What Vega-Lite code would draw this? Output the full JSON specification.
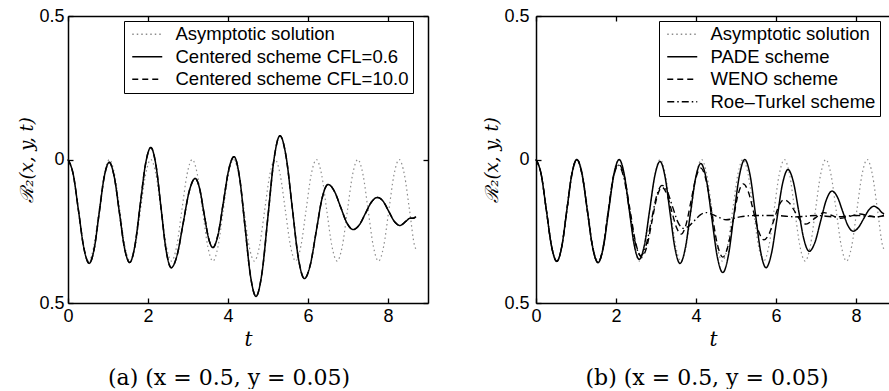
{
  "$schema": "https://vega.github.io/schema/vega-lite/v6.json",
  "padding": {"left": 18, "top": 7, "right": 0, "bottom": 0},
  "bounds": "flush",
  "spacing": 108,
  "background": "white",
  "resolve": {"scale": {"color": "independent", "strokeDash": "independent"}, "legend": {"color": "independent", "strokeDash": "independent"}},
  "config": {
    "view": {"stroke": null},
    "axis": {"grid": false, "domainColor": "black", "tickColor": "black", "labelColor": "black", "titleColor": "black", "labelFont": "Liberation Sans", "labelFontSize": 18, "domainWidth": 1.5, "tickWidth": 1.3, "labelFlush": false, "labelOverlap": false},
    "legend": {"labelFont": "Liberation Sans", "labelFontSize": 18.5, "labelColor": "black", "labelLimit": 400, "strokeColor": "black", "fillColor": "white", "padding": 4, "rowPadding": 3.5, "symbolStrokeWidth": 1.5, "symbolSize": 100}
  },
  "datasets": {
    "asym": [
      {"t":0,"r":0},{"t":0.129,"r":-0.052},{"t":0.259,"r":-0.177},{"t":0.388,"r":-0.302},{"t":0.518,"r":-0.354},{"t":0.647,"r":-0.302},{"t":0.776,"r":-0.177},{"t":0.906,"r":-0.052},
      {"t":1.035,"r":0},{"t":1.164,"r":-0.052},{"t":1.294,"r":-0.177},{"t":1.423,"r":-0.302},{"t":1.553,"r":-0.354},{"t":1.682,"r":-0.302},{"t":1.811,"r":-0.177},{"t":1.941,"r":-0.052},
      {"t":2.070,"r":0},{"t":2.199,"r":-0.052},{"t":2.329,"r":-0.177},{"t":2.458,"r":-0.302},{"t":2.588,"r":-0.354},{"t":2.717,"r":-0.302},{"t":2.846,"r":-0.177},{"t":2.976,"r":-0.052},
      {"t":3.105,"r":0},{"t":3.234,"r":-0.052},{"t":3.364,"r":-0.177},{"t":3.493,"r":-0.302},{"t":3.623,"r":-0.354},{"t":3.752,"r":-0.302},{"t":3.881,"r":-0.177},{"t":4.011,"r":-0.052},
      {"t":4.140,"r":0},{"t":4.269,"r":-0.052},{"t":4.399,"r":-0.177},{"t":4.528,"r":-0.302},{"t":4.658,"r":-0.354},{"t":4.787,"r":-0.302},{"t":4.916,"r":-0.177},{"t":5.046,"r":-0.052},
      {"t":5.175,"r":0},{"t":5.304,"r":-0.052},{"t":5.434,"r":-0.177},{"t":5.563,"r":-0.302},{"t":5.693,"r":-0.354},{"t":5.822,"r":-0.302},{"t":5.951,"r":-0.177},{"t":6.081,"r":-0.052},
      {"t":6.210,"r":0},{"t":6.339,"r":-0.052},{"t":6.469,"r":-0.177},{"t":6.598,"r":-0.302},{"t":6.728,"r":-0.354},{"t":6.857,"r":-0.302},{"t":6.986,"r":-0.177},{"t":7.116,"r":-0.052},
      {"t":7.245,"r":0},{"t":7.374,"r":-0.052},{"t":7.504,"r":-0.177},{"t":7.633,"r":-0.302},{"t":7.763,"r":-0.354},{"t":7.892,"r":-0.302},{"t":8.021,"r":-0.177},{"t":8.151,"r":-0.052},
      {"t":8.280,"r":0},{"t":8.409,"r":-0.052},{"t":8.539,"r":-0.177},{"t":8.668,"r":-0.302},{"t":8.7,"r":-0.313}
    ],
    "cen": [
      {"t":0,"r":0},{"t":0.1325,"r":-0.053},{"t":0.265,"r":-0.181},{"t":0.3975,"r":-0.309},{"t":0.53,"r":-0.362},{"t":0.655,"r":-0.311},{"t":0.78,"r":-0.186},{"t":0.905,"r":-0.061},
      {"t":1.03,"r":-0.01},{"t":1.1575,"r":-0.061},{"t":1.285,"r":-0.1845},{"t":1.4125,"r":-0.308},{"t":1.54,"r":-0.359},{"t":1.6725,"r":-0.3005},{"t":1.805,"r":-0.1585},{"t":1.9375,"r":-0.0165},
      {"t":2.07,"r":0.042},{"t":2.1975,"r":-0.019},{"t":2.325,"r":-0.1675},{"t":2.4525,"r":-0.316},{"t":2.58,"r":-0.377},{"t":2.73,"r":-0.332},{"t":2.88,"r":-0.2215},{"t":3.03,"r":-0.111},
      {"t":3.18,"r":-0.066},{"t":3.29,"r":-0.101},{"t":3.40,"r":-0.1865},{"t":3.51,"r":-0.272},{"t":3.62,"r":-0.307},{"t":3.7525,"r":-0.261},{"t":3.885,"r":-0.1485},{"t":4.0175,"r":-0.036},
      {"t":4.15,"r":0.01},{"t":4.2875,"r":-0.061},{"t":4.425,"r":-0.2335},{"t":4.5625,"r":-0.406},{"t":4.7,"r":-0.477},{"t":4.85,"r":-0.395},{"t":5.0,"r":-0.197},{"t":5.15,"r":0.001},
      {"t":5.3,"r":0.083},{"t":5.4525,"r":0.010},{"t":5.605,"r":-0.166},{"t":5.7575,"r":-0.342},{"t":5.91,"r":-0.415},{"t":6.0575,"r":-0.367},{"t":6.205,"r":-0.251},{"t":6.3525,"r":-0.135},
      {"t":6.5,"r":-0.087},{"t":6.6575,"r":-0.110},{"t":6.815,"r":-0.1655},{"t":6.9725,"r":-0.221},{"t":7.13,"r":-0.244},{"t":7.2825,"r":-0.228},{"t":7.435,"r":-0.188},{"t":7.5875,"r":-0.148},
      {"t":7.74,"r":-0.132},{"t":7.88,"r":-0.146},{"t":8.02,"r":-0.181},{"t":8.16,"r":-0.216},{"t":8.3,"r":-0.23},{"t":8.45,"r":-0.215},{"t":8.55,"r":-0.205},{"t":8.62,"r":-0.205},{"t":8.7,"r":-0.199}
    ],
    "pade": [
      {"t":0,"r":0},{"t":0.13,"r":-0.052},{"t":0.26,"r":-0.1775},{"t":0.39,"r":-0.303},{"t":0.52,"r":-0.355},{"t":0.645,"r":-0.303},{"t":0.77,"r":-0.1775},{"t":0.895,"r":-0.052},
      {"t":1.02,"r":0},{"t":1.1525,"r":-0.052},{"t":1.285,"r":-0.1795},{"t":1.4175,"r":-0.307},{"t":1.55,"r":-0.359},{"t":1.6825,"r":-0.307},{"t":1.815,"r":-0.1795},{"t":1.9475,"r":-0.052},
      {"t":2.08,"r":0},{"t":2.205,"r":-0.051},{"t":2.33,"r":-0.174},{"t":2.455,"r":-0.297},{"t":2.58,"r":-0.348},{"t":2.71,"r":-0.298},{"t":2.84,"r":-0.1775},{"t":2.97,"r":-0.057},
      {"t":3.1,"r":-0.007},{"t":3.225,"r":-0.059},{"t":3.35,"r":-0.1845},{"t":3.475,"r":-0.310},{"t":3.6,"r":-0.362},{"t":3.73,"r":-0.311},{"t":3.86,"r":-0.188},{"t":3.99,"r":-0.065},
      {"t":4.12,"r":-0.014},{"t":4.2575,"r":-0.069},{"t":4.395,"r":-0.204},{"t":4.5325,"r":-0.339},{"t":4.67,"r":-0.394},{"t":4.8075,"r":-0.336},{"t":4.945,"r":-0.197},{"t":5.0825,"r":-0.058},
      {"t":5.22,"r":0},{"t":5.3525,"r":-0.055},{"t":5.485,"r":-0.1885},{"t":5.6175,"r":-0.322},{"t":5.75,"r":-0.377},{"t":5.8875,"r":-0.327},{"t":6.025,"r":-0.206},{"t":6.1625,"r":-0.085},
      {"t":6.3,"r":-0.035},{"t":6.4325,"r":-0.077},{"t":6.565,"r":-0.1775},{"t":6.6975,"r":-0.278},{"t":6.83,"r":-0.32},{"t":6.9725,"r":-0.289},{"t":7.115,"r":-0.215},{"t":7.2575,"r":-0.141},
      {"t":7.4,"r":-0.11},{"t":7.5325,"r":-0.130},{"t":7.665,"r":-0.18},{"t":7.7975,"r":-0.230},{"t":7.93,"r":-0.25},{"t":8.06,"r":-0.237},{"t":8.19,"r":-0.2065},{"t":8.32,"r":-0.176},
      {"t":8.45,"r":-0.163},{"t":8.55,"r":-0.17},{"t":8.65,"r":-0.185},{"t":8.7,"r":-0.19}
    ],
    "weno": [
      {"t":0,"r":0},{"t":0.13,"r":-0.052},{"t":0.26,"r":-0.1775},{"t":0.39,"r":-0.303},{"t":0.52,"r":-0.355},{"t":0.645,"r":-0.303},{"t":0.77,"r":-0.1775},{"t":0.895,"r":-0.052},
      {"t":1.02,"r":0},{"t":1.1525,"r":-0.052},{"t":1.285,"r":-0.1795},{"t":1.4175,"r":-0.307},{"t":1.55,"r":-0.359},{"t":1.6775,"r":-0.307},{"t":1.805,"r":-0.18},{"t":1.9325,"r":-0.06},
      {"t":2.06,"r":-0.015},{"t":2.205,"r":-0.058},{"t":2.35,"r":-0.175},{"t":2.495,"r":-0.292},{"t":2.64,"r":-0.34},{"t":2.7675,"r":-0.305},{"t":2.895,"r":-0.2185},{"t":3.0225,"r":-0.132},
      {"t":3.15,"r":-0.097},{"t":3.27,"r":-0.121},{"t":3.39,"r":-0.1785},{"t":3.51,"r":-0.236},{"t":3.63,"r":-0.26},{"t":3.7525,"r":-0.226},{"t":3.875,"r":-0.145},{"t":3.9975,"r":-0.064},
      {"t":4.12,"r":-0.03},{"t":4.2575,"r":-0.075},{"t":4.395,"r":-0.185},{"t":4.5325,"r":-0.295},{"t":4.67,"r":-0.34},{"t":4.7975,"r":-0.303},{"t":4.925,"r":-0.2125},{"t":5.0525,"r":-0.122},
      {"t":5.18,"r":-0.085},{"t":5.31,"r":-0.113},{"t":5.44,"r":-0.1825},{"t":5.57,"r":-0.252},{"t":5.7,"r":-0.28},{"t":5.825,"r":-0.26},{"t":5.95,"r":-0.21},{"t":6.075,"r":-0.16},
      {"t":6.2,"r":-0.14},{"t":6.3375,"r":-0.152},{"t":6.475,"r":-0.1825},{"t":6.6125,"r":-0.213},{"t":6.75,"r":-0.225},{"t":6.97,"r":-0.205},{"t":7.2,"r":-0.185},{"t":7.4,"r":-0.195},
      {"t":7.6,"r":-0.205},{"t":7.85,"r":-0.198},{"t":8.1,"r":-0.19},{"t":8.3,"r":-0.195},{"t":8.5,"r":-0.2},{"t":8.7,"r":-0.195}
    ],
    "roe": [
      {"t":0,"r":0},{"t":0.13,"r":-0.052},{"t":0.26,"r":-0.1775},{"t":0.39,"r":-0.303},{"t":0.52,"r":-0.355},{"t":0.645,"r":-0.303},{"t":0.77,"r":-0.1775},{"t":0.895,"r":-0.052},
      {"t":1.02,"r":0},{"t":1.1525,"r":-0.052},{"t":1.285,"r":-0.1795},{"t":1.4175,"r":-0.307},{"t":1.55,"r":-0.359},{"t":1.6775,"r":-0.307},{"t":1.805,"r":-0.183},{"t":1.9325,"r":-0.065},
      {"t":2.06,"r":-0.02},{"t":2.2,"r":-0.066},{"t":2.34,"r":-0.1775},{"t":2.48,"r":-0.289},{"t":2.62,"r":-0.335},{"t":2.7525,"r":-0.299},{"t":2.885,"r":-0.2125},{"t":3.0175,"r":-0.126},
      {"t":3.15,"r":-0.09},{"t":3.2825,"r":-0.112},{"t":3.415,"r":-0.165},{"t":3.5475,"r":-0.218},{"t":3.68,"r":-0.24},{"t":3.8225,"r":-0.232},{"t":3.965,"r":-0.2125},{"t":4.1075,"r":-0.193},
      {"t":4.25,"r":-0.185},{"t":4.5,"r":-0.197},{"t":4.75,"r":-0.21},{"t":5.1,"r":-0.2},{"t":5.5,"r":-0.195},{"t":6.0,"r":-0.195},{"t":6.5,"r":-0.2},{"t":7.0,"r":-0.195},
      {"t":7.5,"r":-0.2},{"t":8.0,"r":-0.195},{"t":8.5,"r":-0.2},{"t":8.7,"r":-0.195}
    ]
  },
  "hconcat": [
    {
      "width": 360,
      "height": 287,
      "title": {"text": "(a)  (x = 0.5, y = 0.05)", "orient": "bottom", "font": "DejaVu Serif", "fontSize": 22, "fontWeight": "normal", "color": "black", "offset": 19, "dx": -19},
      "resolve": {"axis": {"x": "independent", "y": "independent"}},
      "layer": [
        {
          "data": {"name": "asym"},
          "mark": {"type": "line", "interpolate": "monotone", "strokeWidth": 1.2},
          "encoding": {
            "x": {"field": "t", "type": "quantitative", "scale": {"domain": [0, 9], "nice": false, "zero": false},
              "axis": {"values": [0, 2, 4, 6, 8], "tickSize": -5, "labelPadding": 9, "title": "t", "titleFont": "DejaVu Serif", "titleFontStyle": "italic", "titleFontWeight": "normal", "titleFontSize": 20, "titlePadding": 4}},
            "y": {"field": "r", "type": "quantitative", "scale": {"domain": [-0.5, 0.5], "nice": false},
              "axis": {"values": [-0.5, 0, 0.5], "tickSize": -5, "labelPadding": 9, "labelExpr": "datum.value == 0 ? '0' : format(abs(datum.value), '.1f')", "title": "ℛ₂(x, y, t)", "titleFont": "DejaVu Serif", "titleFontStyle": "italic", "titleFontWeight": "normal", "titleFontSize": 18, "titlePadding": 2}},
            "color": {"datum": "Asymptotic solution", "scale": {"domain": ["Asymptotic solution", "Centered scheme CFL=0.6", "Centered scheme CFL=10.0"], "range": ["#8c8c8c", "black", "black"]},
              "legend": {"orient": "none", "legendX": 56, "legendY": 5, "title": null, "symbolType": "M-3,0H3", "symbolOffset": 10, "labelOffset": 19}},
            "strokeDash": {"datum": "Asymptotic solution", "scale": {"domain": ["Asymptotic solution", "Centered scheme CFL=0.6", "Centered scheme CFL=10.0"], "range": [[1.5, 3], [1, 0], [6, 4]]},
              "legend": {"orient": "none", "legendX": 56, "legendY": 5, "title": null, "symbolType": "M-3,0H3", "symbolOffset": 10, "labelOffset": 19}}
          }
        },
        {
          "data": {"name": "cen"},
          "mark": {"type": "line", "interpolate": "monotone", "strokeWidth": 1.5},
          "encoding": {
            "x": {"field": "t", "type": "quantitative", "axis": null},
            "y": {"field": "r", "type": "quantitative", "axis": null},
            "color": {"datum": "Centered scheme CFL=10.0", "scale": {"domain": ["Asymptotic solution", "Centered scheme CFL=0.6", "Centered scheme CFL=10.0"], "range": ["#8c8c8c", "black", "black"]}},
            "strokeDash": {"datum": "Centered scheme CFL=10.0", "scale": {"domain": ["Asymptotic solution", "Centered scheme CFL=0.6", "Centered scheme CFL=10.0"], "range": [[1.5, 3], [1, 0], [6, 4]]}}
          }
        },
        {
          "data": {"name": "cen"},
          "mark": {"type": "line", "interpolate": "monotone", "strokeWidth": 1.5},
          "encoding": {
            "x": {"field": "t", "type": "quantitative", "axis": {"orient": "top", "values": [0, 2, 4, 6, 8], "tickSize": -5, "labels": false, "title": null}},
            "y": {"field": "r", "type": "quantitative", "axis": {"orient": "right", "values": [-0.5, 0, 0.5], "tickSize": -5, "labels": false, "title": null}},
            "color": {"datum": "Centered scheme CFL=0.6", "scale": {"domain": ["Asymptotic solution", "Centered scheme CFL=0.6", "Centered scheme CFL=10.0"], "range": ["#8c8c8c", "black", "black"]}},
            "strokeDash": {"datum": "Centered scheme CFL=0.6", "scale": {"domain": ["Asymptotic solution", "Centered scheme CFL=0.6", "Centered scheme CFL=10.0"], "range": [[1.5, 3], [1, 0], [6, 4]]}}
          }
        }
      ]
    },
    {
      "width": 354,
      "height": 287,
      "title": {"text": "(b)  (x = 0.5, y = 0.05)", "orient": "bottom", "font": "DejaVu Serif", "fontSize": 22, "fontWeight": "normal", "color": "black", "offset": 19, "dx": -6},
      "resolve": {"axis": {"x": "independent", "y": "independent"}},
      "layer": [
        {
          "data": {"name": "asym"},
          "mark": {"type": "line", "interpolate": "monotone", "strokeWidth": 1.2},
          "encoding": {
            "x": {"field": "t", "type": "quantitative", "scale": {"domain": [0, 8.85], "nice": false, "zero": false},
              "axis": {"values": [0, 2, 4, 6, 8], "tickSize": -5, "labelPadding": 9, "title": "t", "titleFont": "DejaVu Serif", "titleFontStyle": "italic", "titleFontWeight": "normal", "titleFontSize": 20, "titlePadding": 4}},
            "y": {"field": "r", "type": "quantitative", "scale": {"domain": [-0.5, 0.5], "nice": false},
              "axis": {"values": [-0.5, 0, 0.5], "tickSize": -5, "labelPadding": 12, "labelExpr": "datum.value == 0 ? '0' : format(abs(datum.value), '.1f')", "title": "ℛ₂(x, y, t)", "titleFont": "DejaVu Serif", "titleFontStyle": "italic", "titleFontWeight": "normal", "titleFontSize": 18, "titlePadding": 2}},
            "color": {"datum": "Asymptotic solution", "scale": {"domain": ["Asymptotic solution", "PADE scheme", "WENO scheme", "Roe–Turkel scheme"], "range": ["#8c8c8c", "black", "black", "black"]},
              "legend": {"orient": "none", "legendX": 123, "legendY": 5, "title": null, "symbolType": "M-3,0H3", "symbolOffset": 10, "labelOffset": 19}},
            "strokeDash": {"datum": "Asymptotic solution", "scale": {"domain": ["Asymptotic solution", "PADE scheme", "WENO scheme", "Roe–Turkel scheme"], "range": [[1.5, 3], [1, 0], [6, 4], [7, 3, 1.5, 3]]},
              "legend": {"orient": "none", "legendX": 123, "legendY": 5, "title": null, "symbolType": "M-3,0H3", "symbolOffset": 10, "labelOffset": 19}}
          }
        },
        {
          "data": {"name": "roe"},
          "mark": {"type": "line", "interpolate": "monotone", "strokeWidth": 1.4},
          "encoding": {
            "x": {"field": "t", "type": "quantitative", "axis": null},
            "y": {"field": "r", "type": "quantitative", "axis": null},
            "color": {"datum": "Roe–Turkel scheme", "scale": {"domain": ["Asymptotic solution", "PADE scheme", "WENO scheme", "Roe–Turkel scheme"], "range": ["#8c8c8c", "black", "black", "black"]}},
            "strokeDash": {"datum": "Roe–Turkel scheme", "scale": {"domain": ["Asymptotic solution", "PADE scheme", "WENO scheme", "Roe–Turkel scheme"], "range": [[1.5, 3], [1, 0], [6, 4], [7, 3, 1.5, 3]]}}
          }
        },
        {
          "data": {"name": "weno"},
          "mark": {"type": "line", "interpolate": "monotone", "strokeWidth": 1.4},
          "encoding": {
            "x": {"field": "t", "type": "quantitative", "axis": null},
            "y": {"field": "r", "type": "quantitative", "axis": null},
            "color": {"datum": "WENO scheme", "scale": {"domain": ["Asymptotic solution", "PADE scheme", "WENO scheme", "Roe–Turkel scheme"], "range": ["#8c8c8c", "black", "black", "black"]}},
            "strokeDash": {"datum": "WENO scheme", "scale": {"domain": ["Asymptotic solution", "PADE scheme", "WENO scheme", "Roe–Turkel scheme"], "range": [[1.5, 3], [1, 0], [6, 4], [7, 3, 1.5, 3]]}}
          }
        },
        {
          "data": {"name": "pade"},
          "mark": {"type": "line", "interpolate": "monotone", "strokeWidth": 1.5},
          "encoding": {
            "x": {"field": "t", "type": "quantitative", "axis": {"orient": "top", "values": [0, 2, 4, 6, 8], "tickSize": -5, "labels": false, "title": null}},
            "y": {"field": "r", "type": "quantitative", "axis": null},
            "color": {"datum": "PADE scheme", "scale": {"domain": ["Asymptotic solution", "PADE scheme", "WENO scheme", "Roe–Turkel scheme"], "range": ["#8c8c8c", "black", "black", "black"]}},
            "strokeDash": {"datum": "PADE scheme", "scale": {"domain": ["Asymptotic solution", "PADE scheme", "WENO scheme", "Roe–Turkel scheme"], "range": [[1.5, 3], [1, 0], [6, 4], [7, 3, 1.5, 3]]}}
          }
        }
      ]
    }
  ]
}
